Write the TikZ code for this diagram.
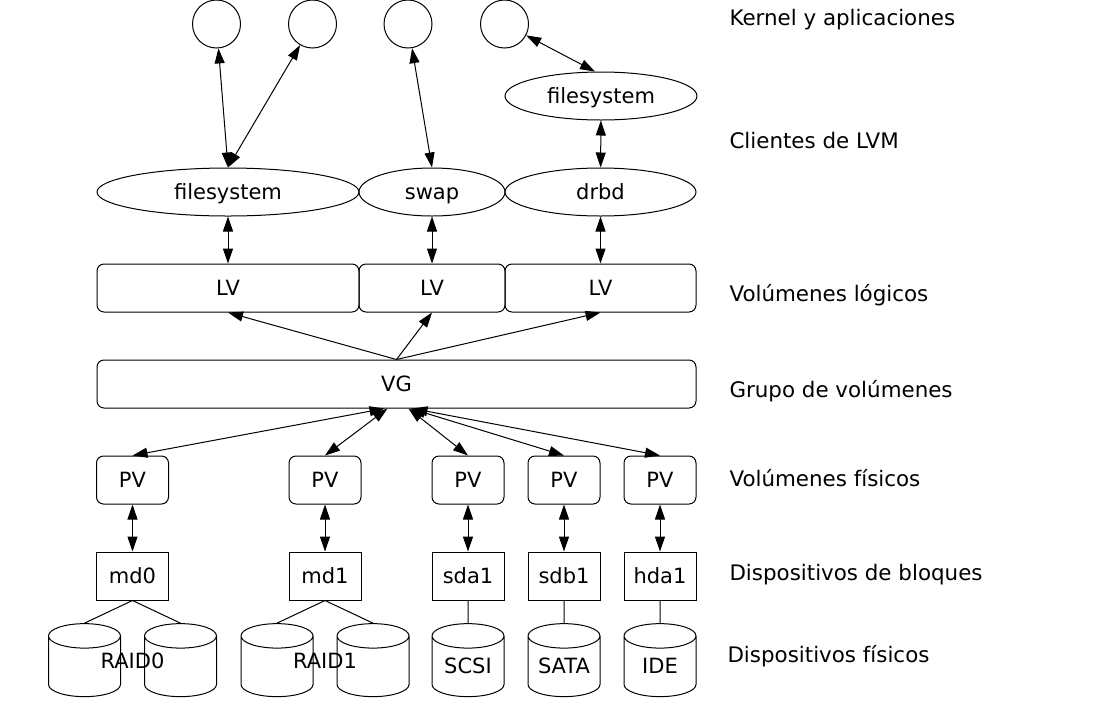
\documentclass[tikz,border=0pt]{standalone}
\usepackage{fontspec}
\setmainfont{DejaVu Sans}
\usetikzlibrary{arrows.meta,shapes.geometric}
\begin{document}
\begin{tikzpicture}[x=1pt,y=-1pt,line width=1pt,
  nodefont/.style={font=\fontsize{21}{25}\selectfont,text height=17pt,text depth=3pt},
  app/.style={shape=circle,draw=black,minimum size=48pt,inner sep=0pt},
  client/.style={shape=ellipse,draw=black,minimum height=48pt,inner sep=0pt,nodefont},
  vol/.style={shape=rectangle,rounded corners=7pt,draw=black,minimum height=48pt,inner sep=0pt,nodefont},
  blk/.style={shape=rectangle,draw=black,minimum width=72pt,minimum height=48pt,inner sep=0pt,nodefont},
  disk/.style={shape=cylinder,shape border rotate=90,aspect=0.47,draw=black,minimum width=72pt,minimum height=73pt,inner sep=0pt,text width=52pt,align=center,nodefont},
  layer/.style={anchor=west,inner sep=0pt,font=\fontsize{21.4}{25}\selectfont},
  arr/.style={{Triangle[length=15pt,width=10pt]}-{Triangle[length=15pt,width=10pt]}},
  sarr/.style={-{Triangle[length=15pt,width=10pt]}}]
\useasboundingbox (0,0) rectangle (1097,705);
\node (c1) at (216.5,24) [app] {};
\node (c2) at (312.5,24) [app] {};
\node (c3) at (408,24) [app] {};
\node (c4) at (504.5,24) [app] {};
\node (fs2) at (601,96) [client,minimum width=192pt] {filesystem};
\node (fs1) at (228,192) [client,minimum width=262pt] {filesystem};
\node (sw) at (432,192) [client,minimum width=146pt] {swap};
\node (db) at (600.5,192) [client,minimum width=191pt] {drbd};
\node (lv1) at (228,288) [vol,minimum width=262pt] {LV};
\node (lv2) at (432,288) [vol,minimum width=146pt] {LV};
\node (lv3) at (600.5,288) [vol,minimum width=191pt] {LV};
\node (vg) at (396.5,384) [vol,minimum width=599pt] {VG};
\node (pv1) at (132.5,480) [vol,minimum width=72pt] {PV};
\node (pv2) at (325,480) [vol,minimum width=72pt] {PV};
\node (pv3) at (468,480) [vol,minimum width=72pt] {PV};
\node (pv4) at (564,480) [vol,minimum width=72pt] {PV};
\node (pv5) at (660,480) [vol,minimum width=72pt] {PV};
\node (md0) at (132.5,576) [blk] {md0};
\node (md1) at (325,576) [blk] {md1};
\node (sda) at (468,576) [blk] {sda1};
\node (sdb) at (564,576) [blk] {sdb1};
\node (hda) at (660,576) [blk] {hda1};
\node (r0a) at (84.5,666.5) [disk] {};
\node (r0b) at (180.5,666.5) [disk] {};
\node (r1a) at (277,666.5) [disk] {};
\node (r1b) at (373,666.5) [disk] {};
\node (scsi) at (468,666.5) [disk] {SCSI};
\node (sata) at (564,666.5) [disk] {SATA};
\node (ide) at (660,666.5) [disk] {IDE};
\node (raid0) at (132.5,661) [nodefont] {RAID0};
\node (raid1) at (325,661) [nodefont] {RAID1};
\draw[arr] (c1) -- (fs1.north);
\draw[arr] (c2) -- (fs1.north);
\draw[arr] (c3) -- (sw.north);
\draw[arr] (c4) -- ([xshift=-6pt]fs2.north);
\draw[arr] (fs2) -- (db);
\draw[arr] (fs1) -- (lv1);
\draw[arr] (sw) -- (lv2);
\draw[arr] (db) -- (lv3);
\draw[sarr] (vg.north) -- (lv1.south);
\draw[sarr] (vg.north) -- (lv2.south);
\draw[sarr] (vg.north) -- (lv3.south);
\draw[arr] ([xshift=-12pt]vg.south) -- (pv1.north);
\draw[arr] ([xshift=-9pt]vg.south) -- (pv2.north);
\draw[arr] ([xshift=12pt]vg.south) -- (pv3.north);
\draw[arr] ([xshift=14pt]vg.south) -- (pv4.north);
\draw[arr] ([xshift=16pt]vg.south) -- (pv5.north);
\draw[arr] (pv1) -- (md0);
\draw[arr] (pv2) -- (md1);
\draw[arr] (pv3) -- (sda);
\draw[arr] (pv4) -- (sdb);
\draw[arr] (pv5) -- (hda);
\draw (md0.south) -- (r0a.north);
\draw (md0.south) -- (r0b.north);
\draw (md1.south) -- (r1a.north);
\draw (md1.south) -- (r1b.north);
\draw (sda) -- (scsi);
\draw (sdb) -- (sata);
\draw (hda) -- (ide);
\node (k) at (729,20) [layer] {Kernel y aplicaciones};
\node (cl) at (729,141) [layer] {Clientes de LVM};
\node (vl) at (729,295) [layer] {Volúmenes lógicos};
\node (gv) at (729,391) [layer] {Grupo de volúmenes};
\node (vf) at (729,478) [layer] {Volúmenes físicos};
\node (db2) at (729,575) [layer] {Dispositivos de bloques};
\node (df) at (727,656) [layer] {Dispositivos físicos};
\end{tikzpicture}
\end{document}
